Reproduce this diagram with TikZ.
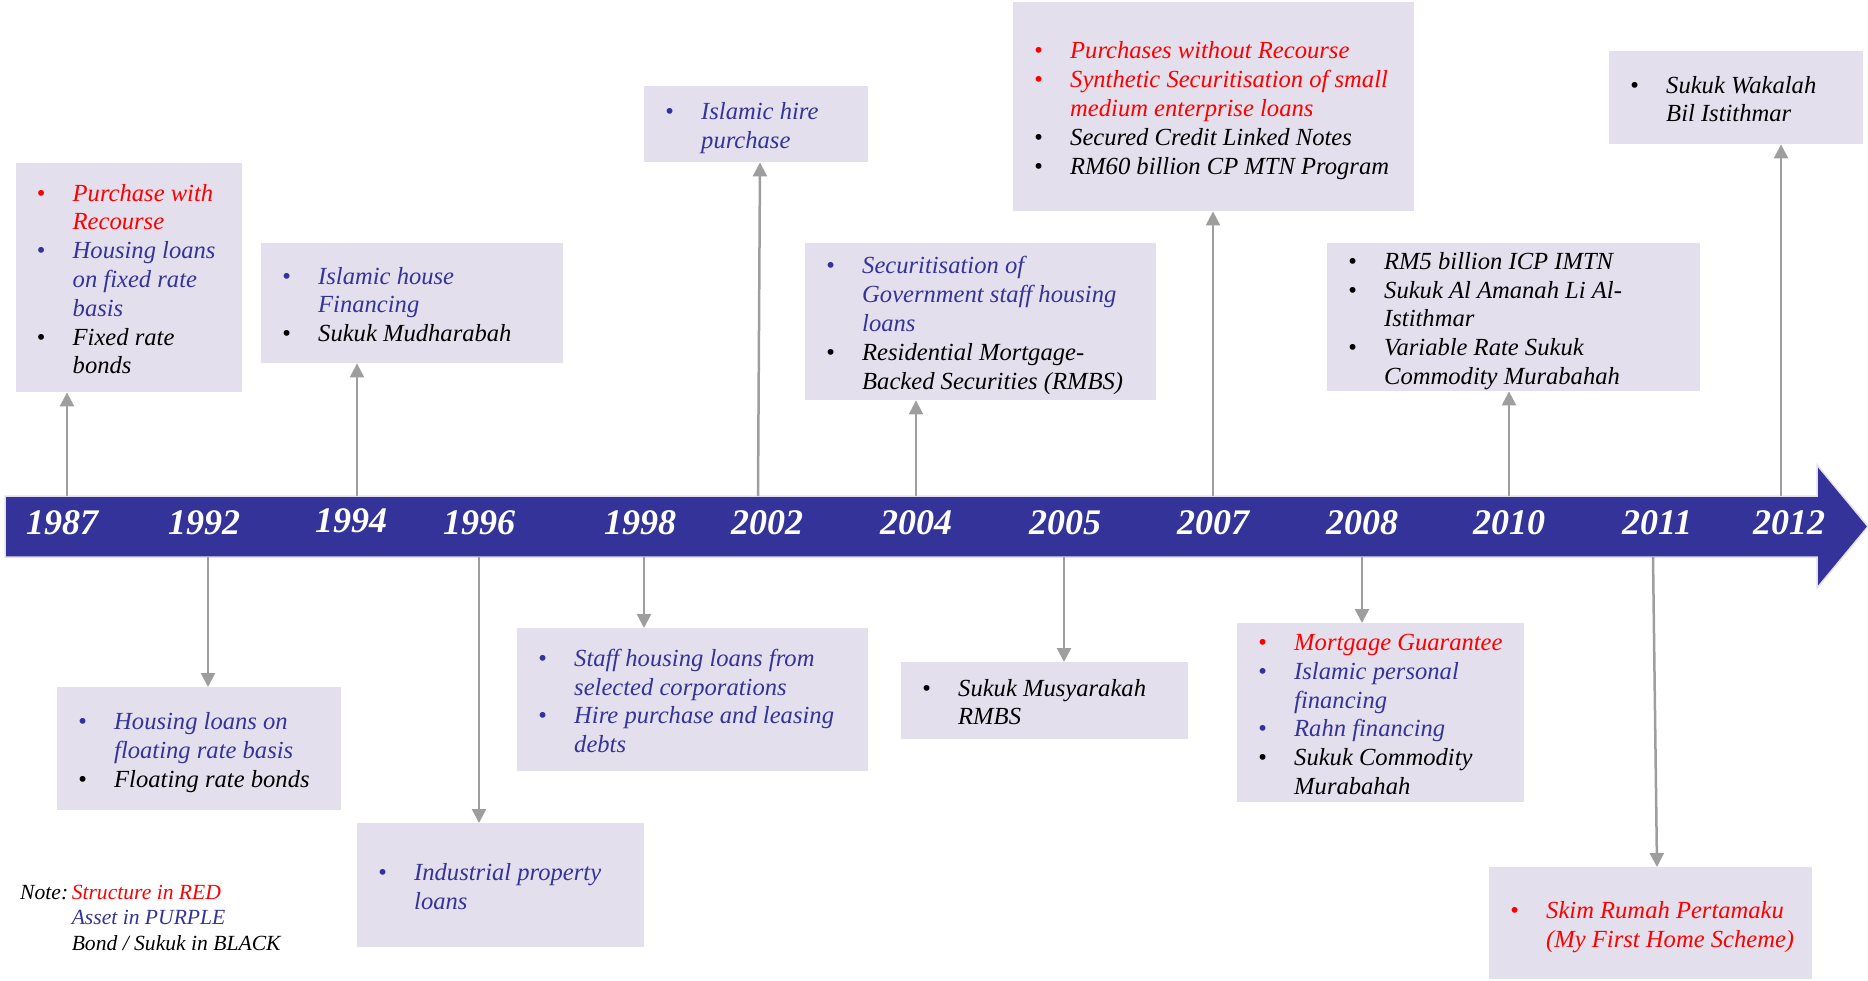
\documentclass[tikz,border=0pt]{standalone}
\usepackage{fontspec}
\setmainfont{Liberation Serif}
\usetikzlibrary{arrows.meta}
\definecolor{purp}{RGB}{51,51,153}
\definecolor{boxc}{RGB}{228,223,236}
\definecolor{arrc}{RGB}{158,158,158}
\definecolor{redc}{RGB}{255,0,0}
\newcommand{\blist}[1]{\begin{tabular}{@{}p{36pt}@{}l@{}}#1\end{tabular}}
\newcommand{\ia}[2]{\textcolor{#1}{\textbullet} & \textcolor{#1}{#2}\\}
\newcommand{\ib}[2]{& \textcolor{#1}{#2}\\}
\tikzset{
  box/.style={fill=boxc, inner sep=0pt, anchor=north west},
  txt/.style={inner sep=0pt, anchor=west, yshift=-4pt, font=\fontsize{24.6}{28.8}\selectfont\itshape},
  yr/.style={text=white, inner sep=0pt, yshift=-2.5pt, font=\fontsize{36}{36}\selectfont\bfseries\itshape},
  conn/.style={draw=arrc, line width=2.5pt, -{Triangle[width=14pt,length=14pt]}},
  notetxt/.style={inner sep=0pt, anchor=west, yshift=-3.5pt, font=\fontsize{21.6}{25.6}\selectfont\itshape}
}
\begin{document}
\begin{tikzpicture}[x=1pt,y=-1pt]
\useasboundingbox (0,0) rectangle (1868,980);
% band
\path[fill=purp, draw=boxc, line width=1.5pt] (5,496) -- (1817,496) -- (1817,465) -- (1868,526.5) -- (1817,588) -- (1817,557) -- (5,557) -- cycle;
% years
\node[yr] (y1987) at (62,520) {1987};
\node[yr] (y1992) at (204,520) {1992};
\node[yr] (y1994) at (351,518) {1994};
\node[yr] (y1996) at (479,520) {1996};
\node[yr] (y1998) at (640,520) {1998};
\node[yr] (y2002) at (767,520) {2002};
\node[yr] (y2004) at (916,520) {2004};
\node[yr] (y2005) at (1065,520) {2005};
\node[yr] (y2007) at (1213,520) {2007};
\node[yr] (y2008) at (1362,520) {2008};
\node[yr] (y2010) at (1509,520) {2010};
\node[yr] (y2011) at (1657,520) {2011};
\node[yr] (y2012) at (1789,520) {2012};
% arrow origins
\coordinate (a1987) at (67,496);
\coordinate (a1994) at (357,496);
\coordinate (a2002) at (758,496);
\coordinate (a2004) at (916,496);
\coordinate (a2007) at (1213,496);
\coordinate (a2010) at (1509,496);
\coordinate (a2012) at (1781,496);
\coordinate (a1992) at (208,557);
\coordinate (a1996) at (479,557);
\coordinate (a1998) at (644,557);
\coordinate (a2005) at (1064,557);
\coordinate (a2008) at (1362,557);
\coordinate (a2011) at (1653,557);
% boxes
\node[box, minimum width=226.5pt, minimum height=229pt] (b1987) at (15.5,163) {};
\node[txt] (t1987) at ([xshift=21pt]b1987.west) {\blist{\ia{redc}{Purchase with}\ib{redc}{Recourse}\ia{purp}{Housing loans}\ib{purp}{on fixed rate}\ib{purp}{basis}\ia{black}{Fixed rate}\ib{black}{bonds}}};
\node[box, minimum width=302pt, minimum height=120pt] (b1994) at (261,243) {};
\node[txt] (t1994) at ([xshift=21pt]b1994.west) {\blist{\ia{purp}{Islamic house}\ib{purp}{Financing}\ia{black}{Sukuk Mudharabah}}};
\node[box, minimum width=284pt, minimum height=123pt] (b1992) at (57,687) {};
\node[txt] (t1992) at ([xshift=21pt]b1992.west) {\blist{\ia{purp}{Housing loans on}\ib{purp}{floating rate basis}\ia{black}{Floating rate bonds}}};
\node[box, minimum width=287pt, minimum height=124pt] (b1996) at (357,823) {};
\node[txt] (t1996) at ([xshift=21pt]b1996.west) {\blist{\ia{purp}{Industrial property}\ib{purp}{loans}}};
\node[box, minimum width=351pt, minimum height=143pt] (b1998) at (517,628) {};
\node[txt] (t1998) at ([xshift=21pt]b1998.west) {\blist{\ia{purp}{Staff housing loans from}\ib{purp}{selected corporations}\ia{purp}{Hire purchase and leasing}\ib{purp}{debts}}};
\node[box, minimum width=224pt, minimum height=76pt] (b2002) at (644,86) {};
\node[txt] (t2002) at ([xshift=21pt]b2002.west) {\blist{\ia{purp}{Islamic hire}\ib{purp}{purchase}}};
\node[box, minimum width=351pt, minimum height=157pt] (b2004) at (805,243) {};
\node[txt] (t2004) at ([xshift=21pt]b2004.west) {\blist{\ia{purp}{Securitisation of}\ib{purp}{Government staff housing}\ib{purp}{loans}\ia{black}{Residential Mortgage-}\ib{black}{Backed Securities (RMBS)}}};
\node[box, minimum width=287pt, minimum height=77pt] (b2005) at (901,662) {};
\node[txt] (t2005) at ([xshift=21pt]b2005.west) {\blist{\ia{black}{Sukuk Musyarakah}\ib{black}{RMBS}}};
\node[box, minimum width=401pt, minimum height=209pt] (b2007) at (1013,2) {};
\node[txt] (t2007) at ([xshift=21pt]b2007.west) {\blist{\ia{redc}{Purchases without Recourse}\ia{redc}{Synthetic Securitisation of small}\ib{redc}{medium enterprise loans}\ia{black}{Secured Credit Linked Notes}\ia{black}{RM60 billion CP MTN Program}}};
\node[box, minimum width=287pt, minimum height=179pt] (b2008) at (1237,623) {};
\node[txt] (t2008) at ([xshift=21pt]b2008.west) {\blist{\ia{redc}{Mortgage Guarantee}\ia{purp}{Islamic personal}\ib{purp}{financing}\ia{purp}{Rahn financing}\ia{black}{Sukuk Commodity}\ib{black}{Murabahah}}};
\node[box, minimum width=373pt, minimum height=148pt] (b2010) at (1327,243) {};
\node[txt] (t2010) at ([xshift=21pt]b2010.west) {\blist{\ia{black}{RM5 billion ICP IMTN}\ia{black}{Sukuk Al Amanah Li Al-}\ib{black}{Istithmar}\ia{black}{Variable Rate Sukuk}\ib{black}{Commodity Murabahah}}};
\node[box, minimum width=323pt, minimum height=112pt] (b2011) at (1489,867) {};
\node[txt] (t2011) at ([xshift=21pt]b2011.west) {\blist{\ia{redc}{Skim Rumah Pertamaku}\ib{redc}{(My First Home Scheme)}}};
\node[box, minimum width=254pt, minimum height=93pt] (b2012) at (1609,51) {};
\node[txt] (t2012) at ([xshift=21pt]b2012.west) {\blist{\ia{black}{Sukuk Wakalah}\ib{black}{Bil Istithmar}}};
% connectors
\draw[conn] (a1987) -- (a1987 |- b1987.south);
\draw[conn] (a1994) -- (a1994 |- b1994.south);
\draw[conn] (a2002) -- ([xshift=2pt]a2002 |- b2002.south);
\draw[conn] (a2004) -- (a2004 |- b2004.south);
\draw[conn] (a2007) -- (a2007 |- b2007.south);
\draw[conn] (a2010) -- (a2010 |- b2010.south);
\draw[conn] (a2012) -- (a2012 |- b2012.south);
\draw[conn] (a1992) -- (a1992 |- b1992.north);
\draw[conn] (a1996) -- (a1996 |- b1996.north);
\draw[conn] (a1998) -- (a1998 |- b1998.north);
\draw[conn] (a2005) -- (a2005 |- b2005.north);
\draw[conn] (a2008) -- (a2008 |- b2008.north);
\draw[conn] (a2011) -- ([xshift=4pt]a2011 |- b2011.north);
% note
\node[notetxt] (note) at (20,916) {\begin{tabular}{@{}l@{\,}l@{}}Note: & \textcolor{redc}{Structure in RED}\\ & \textcolor{purp}{Asset in PURPLE}\\ & Bond / Sukuk in BLACK\end{tabular}};
\end{tikzpicture}
\end{document}
